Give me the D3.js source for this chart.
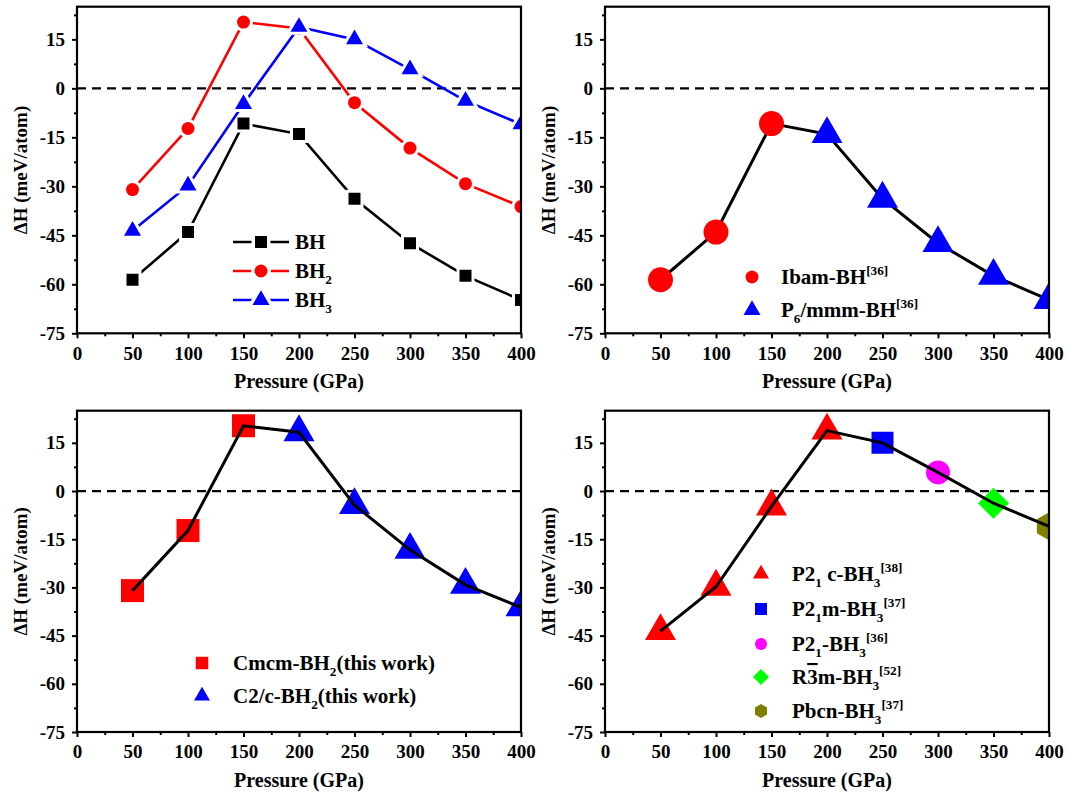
<!DOCTYPE html>
<html>
<head>
<meta charset="utf-8">
<script src="https://cdn.jsdelivr.net/npm/d3@7"></script>
</head>
<body style="margin:0">
<svg id="chart" width="1067" height="802" font-family="Liberation Serif" font-weight="bold"></svg>
<script>
// data (meV/atom vs GPa)
const pressures = [50, 100, 150, 200, 250, 300, 350, 400];
const bhValues  = [-58.6, -44, -10.8, -14, -33.8, -47.4, -57.4, -64.8];
const bh2Values = [-31, -12.3, 20.3, 18.3, -4.4, -18.3, -29.2, -36.2];
const bh3Values = [-43.6, -29.8, -4.8, 18.8, 15, 5.8, -3.8, -11];

// which structure each point belongs to (panels b, c, d)
const bhPhases  = ["Ibam", "Ibam", "Ibam", "P6", "P6", "P6", "P6", "P6"];
const bh2Phases = ["Cmcm", "Cmcm", "Cmcm", "C2c", "C2c", "C2c", "C2c", "C2c"];
const bh3Phases = ["P21c", "P21c", "P21c", "P21c", "P21m", "P21", "R3m", "Pbcn"];

const xTicks = [0, 50, 100, 150, 200, 250, 300, 350, 400];
const xMinor = [25, 75, 125, 175, 225, 275, 325, 375];
const yTicks = [-75, -60, -45, -30, -15, 0, 15];
const yMinor = [-67.5, -52.5, -37.5, -22.5, -7.5, 7.5, 22.5];

const svg = d3.select("#chart");

function symbolHexagonDraw(context, size) {
    const r = Math.sqrt(size);
    for (let i = 0; i < 6; i++) {
        const a = Math.PI / 3 * i - Math.PI / 2;
        if (i == 0) context.moveTo(r * Math.cos(a), r * Math.sin(a));
        else context.lineTo(r * Math.cos(a), r * Math.sin(a));
    }
    context.closePath();
}
function symbolRhombDraw(context, size) {
    const r = Math.sqrt(size);
    context.moveTo(0, -r);
    context.lineTo(r, 0);
    context.lineTo(0, r);
    context.lineTo(-r, 0);
    context.closePath();
}

// w = visible width of the marker in px
function marker(shape, w) {
    if (shape == "square") return d3.symbol(d3.symbolSquare, w * w)();
    if (shape == "circle") return d3.symbol(d3.symbolCircle, Math.PI * w * w / 4)();
    if (shape == "triangle") return d3.symbol(d3.symbolTriangle, w * w * Math.sqrt(3) / 4)();
    if (shape == "diamond") return d3.symbol({ draw: symbolRhombDraw }, w * w / 4)();
    if (shape == "hexagon") return d3.symbol({ draw: symbolHexagonDraw }, w * w / 4)();
}

function richText(g, x, y, parts, size) {
    const t = g.append("text").attr("x", x).attr("y", y).attr("font-size", size);
    let shift = 0;
    parts.forEach((p) => {
        const s = p[1] == "sub" ? 6 : (p[1] == "sup" ? -9 : 0);
        const span = t.append("tspan").attr("dy", s - shift).text(p[0]);
        if (p[1] != "n") span.attr("font-size", size * 0.63);
        if (p[2]) span.attr("text-decoration", "overline");
        shift = s;
    });
    return t;
}

function makePanel(id, left, right, top, bottom, titleX) {
    const g = svg.append("g");
    const x = d3.scaleLinear().domain([0, 400]).range([left, right]);
    const y = d3.scaleLinear().domain([-75, 25]).range([bottom, top]);

    g.append("clipPath").attr("id", "clip" + id).append("rect")
        .attr("x", left).attr("y", top).attr("width", right - left).attr("height", bottom - top);
    const plot = g.append("g").attr("clip-path", "url(#clip" + id + ")");

    plot.append("line")
        .attr("x1", left).attr("x2", right)
        .attr("y1", y(0)).attr("y2", y(0))
        .attr("stroke", "#000").attr("stroke-width", 2.2)
        .attr("stroke-dasharray", "9,6");

    const axes = [
        g.append("g").attr("transform", "translate(0," + bottom + ")")
            .call(d3.axisBottom(x).tickValues(xTicks).tickSize(5).tickPadding(8).tickFormat(d => String(d))),
        g.append("g").attr("transform", "translate(0," + bottom + ")")
            .call(d3.axisBottom(x).tickValues(xMinor).tickSize(3).tickFormat("")),
        g.append("g").attr("transform", "translate(" + left + ",0)")
            .call(d3.axisLeft(y).tickValues(yTicks).tickSize(5).tickPadding(7).tickFormat(d => String(d))),
        g.append("g").attr("transform", "translate(" + left + ",0)")
            .call(d3.axisLeft(y).tickValues(yMinor).tickSize(3).tickFormat(""))
    ];
    axes.forEach((a) => {
        a.attr("font-family", null).attr("font-size", null);
        a.select(".domain").remove();
        a.selectAll(".tick line").attr("stroke", "#000").attr("stroke-width", 2);
        a.selectAll(".tick text").attr("font-size", 19).attr("fill", "#000");
    });

    g.append("rect")
        .attr("x", left).attr("y", top).attr("width", right - left).attr("height", bottom - top)
        .attr("fill", "none").attr("stroke", "#000").attr("stroke-width", 2.2);

    g.append("text")
        .attr("x", (left + right) / 2).attr("y", bottom + 55)
        .attr("text-anchor", "middle").attr("font-size", 20)
        .text("Pressure (GPa)");

    g.append("text")
        .attr("transform", "translate(" + (titleX + 6) + "," + (top + bottom) / 2 + ") rotate(-90)")
        .attr("text-anchor", "middle").attr("font-size", 19)
        .text("ΔH (meV/atom)");

    return { g: g, plot: plot, x: x, y: y };
}

const pA = makePanel("a", 77, 521, 6.7, 333.3, 21);
const pB = makePanel("b", 605, 1049, 6.7, 333.3, 549);
const pC = makePanel("c", 77, 521, 410.7, 732, 21);
const pD = makePanel("d", 605, 1049, 410.7, 732, 549);

// ---- panel a: three series with halo markers
const seriesA = [
    { values: bhValues, color: "#000000", shape: "square", w: 12, label: [["BH", "n"]] },
    { values: bh2Values, color: "#ff0000", shape: "circle", w: 13, label: [["BH", "n"], ["2", "sub"]] },
    { values: bh3Values, color: "#0000ff", shape: "triangle", w: 17, label: [["BH", "n"], ["3", "sub"]] }
];

seriesA.forEach((s, k) => {
    const line = d3.line().x((d, i) => pA.x(pressures[i])).y(d => pA.y(d));
    pA.plot.append("path").datum(s.values)
        .attr("d", line).attr("fill", "none")
        .attr("stroke", s.color).attr("stroke-width", 2.6);
    pA.plot.selectAll(".m" + k).data(s.values).enter().append("path")
        .attr("transform", (d, i) => "translate(" + pA.x(pressures[i]) + "," + pA.y(d) + ")")
        .attr("d", marker(s.shape, s.w))
        .attr("fill", s.color).attr("stroke", "#fff").attr("stroke-width", 6)
        .attr("paint-order", "stroke");

    const ly = 242 + k * 29;
    pA.g.append("line").attr("x1", 233).attr("x2", 289).attr("y1", ly).attr("y2", ly)
        .attr("stroke", s.color).attr("stroke-width", 2.6);
    pA.g.append("path").attr("transform", "translate(261," + ly + ")")
        .attr("d", marker(s.shape, s.w)).attr("fill", s.color)
        .attr("stroke", "#fff").attr("stroke-width", 7).attr("paint-order", "stroke");
    richText(pA.g, 295, ly + 7, s.label, 21);
});

// ---- panels b, c, d: black line through points, one marker per structure
function drawPhases(p, values, phases, styles, lineOnTop) {
    const line = d3.line().x((d, i) => p.x(pressures[i])).y(d => p.y(d));
    function addLine() {
        p.plot.append("path").datum(values)
            .attr("d", line).attr("fill", "none")
            .attr("stroke", "#000").attr("stroke-width", 3);
    }
    if (!lineOnTop) addLine();
    p.plot.selectAll(".pm").data(values).enter().append("path")
        .attr("transform", (d, i) => "translate(" + p.x(pressures[i]) + "," + p.y(d) + ")")
        .attr("d", (d, i) => marker(styles[phases[i]].shape, styles[phases[i]].w))
        .attr("fill", (d, i) => styles[phases[i]].color);
    if (lineOnTop) addLine();
}

function drawLegend(p, lx, tx, rows, styles) {
    rows.forEach((r) => {
        const st = styles[r.key];
        p.g.append("path").attr("transform", "translate(" + lx + "," + r.y + ")")
            .attr("d", marker(st.shape, st.lw)).attr("fill", st.color);
        richText(p.g, tx, r.y + 7, r.label, 21);
    });
}

const stylesB = {
    Ibam: { shape: "circle", color: "#ff0000", w: 25, lw: 13 },
    P6: { shape: "triangle", color: "#0000ff", w: 31, lw: 17 }
};
drawPhases(pB, bhValues, bhPhases, stylesB, false);
drawLegend(pB, 752, 781, [
    { key: "Ibam", y: 277, label: [["Ibam-BH", "n"], ["[36]", "sup"]] },
    { key: "P6", y: 310, label: [["P", "n"], ["6", "sub"], ["/mmm-BH", "n"], ["[36]", "sup"]] }
], stylesB);

const stylesC = {
    Cmcm: { shape: "square", color: "#ff0000", w: 23, lw: 12.5 },
    C2c: { shape: "triangle", color: "#0000ff", w: 31, lw: 16 }
};
drawPhases(pC, bh2Values, bh2Phases, stylesC, true);
drawLegend(pC, 202, 233, [
    { key: "Cmcm", y: 663, label: [["Cmcm-BH", "n"], ["2", "sub"], ["(this work)", "n"]] },
    { key: "C2c", y: 696, label: [["C2/c-BH", "n"], ["2", "sub"], ["(this work)", "n"]] }
], stylesC);

const stylesD = {
    P21c: { shape: "triangle", color: "#ff0000", w: 31, lw: 16 },
    P21m: { shape: "square", color: "#0000ff", w: 22, lw: 12 },
    P21: { shape: "circle", color: "#ff00ff", w: 24, lw: 12 },
    R3m: { shape: "diamond", color: "#00ff00", w: 31, lw: 16 },
    Pbcn: { shape: "hexagon", color: "#808000", w: 28, lw: 14 }
};
drawPhases(pD, bh3Values, bh3Phases, stylesD, true);
drawLegend(pD, 761, 792, [
    { key: "P21c", y: 574, label: [["P2", "n"], ["1", "sub"], [" c-BH", "n"], ["3", "sub"], ["[38]", "sup"]] },
    { key: "P21m", y: 609, label: [["P2", "n"], ["1", "sub"], ["m-BH", "n"], ["3", "sub"], ["[37]", "sup"]] },
    { key: "P21", y: 644, label: [["P2", "n"], ["1", "sub"], ["-BH", "n"], ["3", "sub"], ["[36]", "sup"]] },
    { key: "R3m", y: 677, label: [["R", "n"], ["3", "n", true], ["m-BH", "n"], ["3", "sub"], ["[52]", "sup"]] },
    { key: "Pbcn", y: 711, label: [["Pbcn-BH", "n"], ["3", "sub"], ["[37]", "sup"]] }
], stylesD);

svg.selectAll("text")
    .attr("font-family", "Liberation Serif")
    .attr("font-weight", "bold")
    .attr("fill", "#000");
</script>
</body>
</html>
